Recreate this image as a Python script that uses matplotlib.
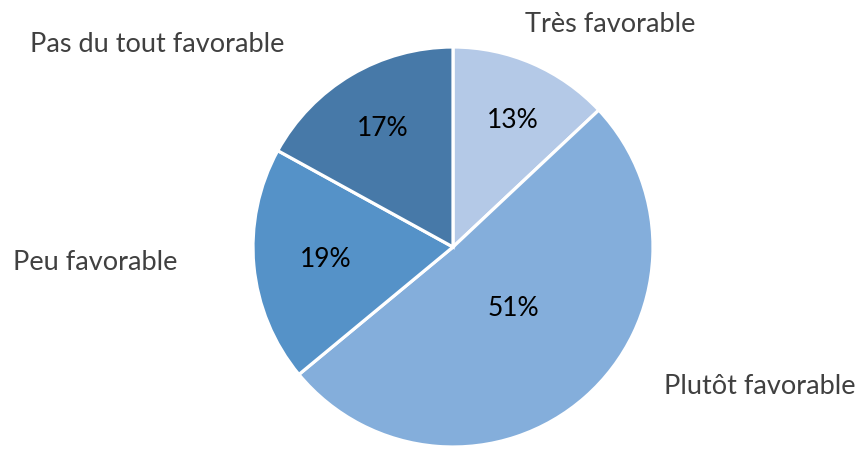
import matplotlib
matplotlib.use("Agg")
import matplotlib.pyplot as plt
import numpy as np

categories = ["Très favorable", "Plutôt favorable", "Peu favorable", "Pas du tout favorable"]
shares = [13, 51, 19, 17]
colors = ["#B4C9E7", "#84AEDB", "#5592C8", "#4779A8"]

W, H = 859, 449
plt.rcParams["font.family"] = ["Lato", "DejaVu Sans"]

fig = plt.figure(figsize=(W / 100, H / 100), dpi=100)
ax = fig.add_axes([0, 0, 1, 1])

cx, cy, r = 453, H - 247, 200
wedges, _ = ax.pie(shares, colors=colors, startangle=90, counterclock=False,
                   center=(cx, cy), radius=r, frame=True,
                   wedgeprops=dict(edgecolor="white", linewidth=2.3))
ax.set_xlim(0, W)
ax.set_ylim(0, H)
ax.set_aspect("equal")
ax.axis("off")

# percent label (radial factor, angle shift) and outside label centres per slice
pct_pos = [(0.70, -2), (0.43, 3), (0.64, 0), (0.69, 0)]
lab_pos = [(610, 24), (760, 386), (95, 262), (157, 45)]

for w, v, name, (f, da), (lx, ly) in zip(wedges, shares, categories, pct_pos, lab_pos):
    mid = np.deg2rad((w.theta1 + w.theta2) / 2 + da)
    ax.text(cx + f * r * np.cos(mid), cy + f * r * np.sin(mid), f"{v}%",
            ha="center", va="center", fontsize=19, color="#000000")
    ax.text(lx, H - ly, name, ha="center", va="center", fontsize=19.5, color="#404040")

fig.savefig("out.png", dpi=100, facecolor="white")
